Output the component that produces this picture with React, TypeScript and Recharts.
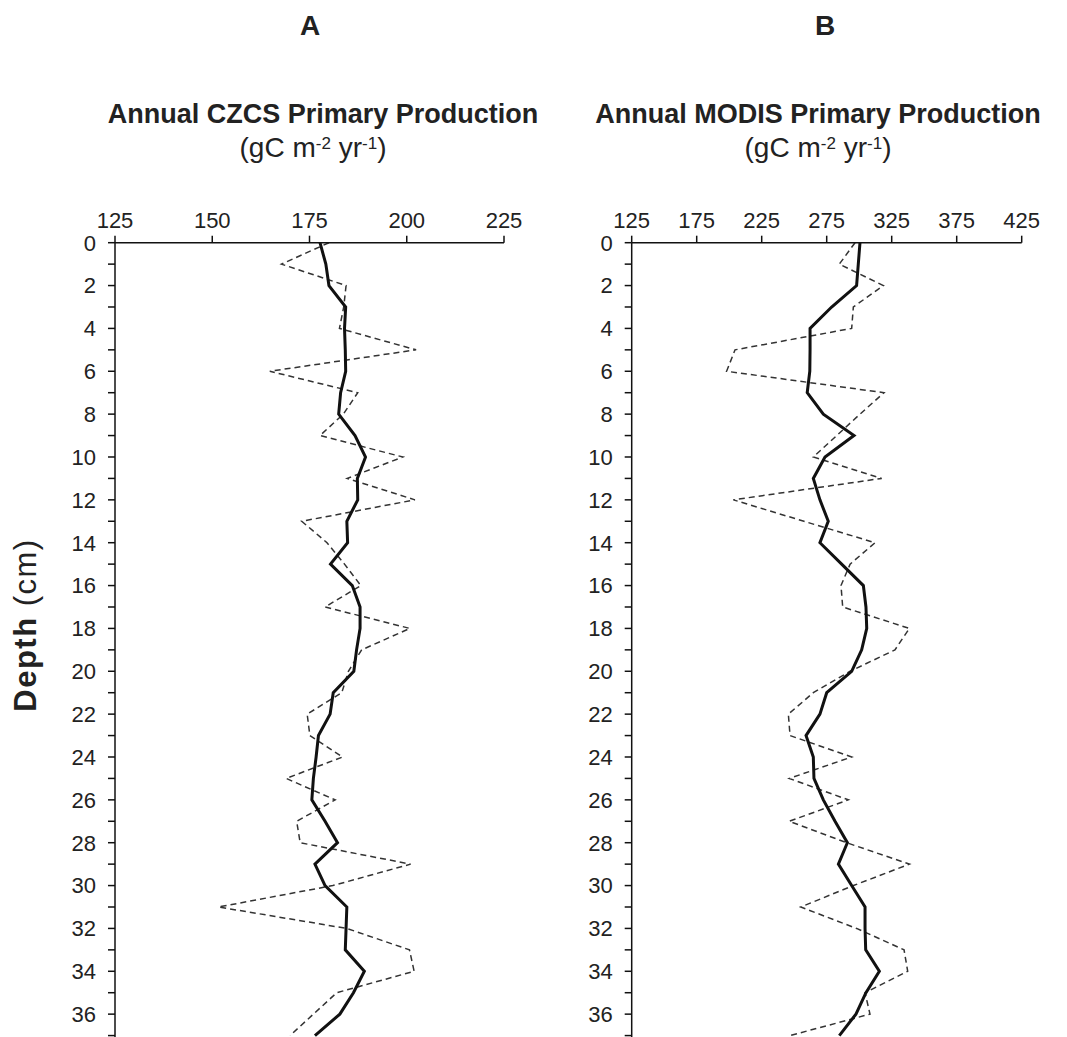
import { LineChart, Line, XAxis, YAxis } from "recharts";

const depths = [
  0, 1, 2, 3, 4, 5, 6, 7, 8, 9, 10, 11, 12, 13, 14, 15, 16, 17, 18, 19,
  20, 21, 22, 23, 24, 25, 26, 27, 28, 29, 30, 31, 32, 33, 34, 35, 36, 37,
];

// panel A, CZCS (solid = smoothed, dashed = annual)
const czcsSmooth = [
  177.7, 179.2, 180, 184.3, 184, 184.2, 184.3, 183, 182.5, 186.7,
  189.4, 187.3, 187.4, 184.6, 184.8, 180.4, 186, 188, 188, 187.1,
  186.4, 181.1, 180.3, 177.3, 176.7, 176, 175.6, 179, 182.2, 176.4,
  179, 184.6, 184.4, 184.2, 189.1, 186.3, 182.8, 176.4,
];
const czcsRaw = [
  180, 167.8, 184.4, 183.8, 182.7, 202.4, 164.8, 187.4, 183.7, 177.7,
  199, 184.7, 202.1, 173, 179.5, 184, 188.2, 179, 200.8, 188.4,
  185, 183.3, 174.4, 175.1, 183.5, 169, 181.6, 171.7, 172.6, 201,
  181, 151.6, 184.6, 200.7, 201.9, 182, 176, 170,
];

// panel B, MODIS
const modisSmooth = [
  300.6, 299.3, 298, 278.8, 262.2, 262.2, 262, 260, 272.4, 296,
  273.7, 264.7, 269.8, 276.2, 269.8, 286.5, 303.2, 305.2, 305.8, 301.9,
  294.2, 275, 269.8, 259.1, 264.7, 265.2, 272.4, 281.4, 290.9, 284,
  294.2, 304.5, 304.5, 305, 315.5, 305.2, 297.5, 284.7,
];
const modisRaw = [
  296.8, 284.7, 318.6, 295.5, 294.2, 204.5, 198, 319.1, 300.6, 282.7,
  264.7, 317.3, 203.2, 257.5, 312.2, 293, 286, 287.3, 338.6, 327.5,
  293, 264.7, 245.5, 246.8, 294.2, 246.2, 291.6, 246.2, 290.3, 338.6,
  295.5, 255, 298, 334.5, 337.3, 304.5, 308.3, 246.8,
];

const czcsTicks = [125, 150, 175, 200, 225];
const modisTicks = [125, 175, 225, 275, 325, 375, 425];

const FONT = '"Liberation Sans", Arial, sans-serif';

const czcsData = depths.map((d, i) => ({ depth: d, smooth: czcsSmooth[i], raw: czcsRaw[i] }));
const modisData = depths.map((d, i) => ({ depth: d, smooth: modisSmooth[i], raw: modisRaw[i] }));

function DepthTick(props: any) {
  const { x, y, payload } = props;
  if (payload.value % 2 !== 0) return <g />;
  return (
    <text x={x} y={y} dy="0.36em" textAnchor="end" fontSize={22} fill="#222" fontFamily={FONT}>
      {payload.value}
    </text>
  );
}

interface PanelProps {
  data: { depth: number; smooth: number; raw: number }[];
  ticks: number[];
  left: number;
  width: number;
  marginLeft: number;
  marginRight: number;
}

function Panel({ data, ticks, left, width, marginLeft, marginRight }: PanelProps) {
  return (
    <div style={{ position: "absolute", left, top: 0 }}>
      <LineChart
        width={width}
        height={1080}
        data={data}
        layout="vertical"
        margin={{ top: 212.7, left: marginLeft, right: marginRight, bottom: 23 }}
      >
        <XAxis
          type="number"
          orientation="top"
          domain={[ticks[0], ticks[ticks.length - 1]]}
          ticks={ticks}
          height={30}
          tickSize={7}
          tickMargin={8}
          stroke="#111"
          strokeWidth={1.5}
          tick={{ fontSize: 22, fill: "#222", fontFamily: FONT }}
        />
        <YAxis
          type="number"
          dataKey="depth"
          domain={[0, 38]}
          ticks={depths}
          interval={0}
          width={60}
          tickSize={7}
          tickMargin={12}
          stroke="#111"
          strokeWidth={1.5}
          tick={<DepthTick />}
        />
        <Line
          dataKey="raw"
          stroke="#333"
          strokeWidth={1.5}
          strokeDasharray="6 4"
          dot={false}
          isAnimationActive={false}
        />
        <Line
          dataKey="smooth"
          stroke="#111"
          strokeWidth={3}
          dot={false}
          isAnimationActive={false}
        />
      </LineChart>
    </div>
  );
}

function Subtitle({ x }: { x: number }) {
  return (
    <text x={x} y={157} textAnchor="middle" fontSize={28} fill="#222" fontFamily={FONT}>
      (gC m
      <tspan dy={-8} fontSize={17}>-2</tspan>
      <tspan dy={8}> yr</tspan>
      <tspan dy={-8} fontSize={17}>-1</tspan>
      <tspan dy={8}>)</tspan>
    </text>
  );
}

export default function App() {
  return (
    <div
      style={{
        position: "fixed",
        left: 0,
        top: 0,
        width: 1067,
        height: 1037,
        overflow: "hidden",
        background: "#fff",
        fontFamily: FONT,
      }}
    >
      <Panel data={czcsData} ticks={czcsTicks} left={0} width={530} marginLeft={55} marginRight={26} />
      <Panel data={modisData} ticks={modisTicks} left={530} width={537} marginLeft={41.7} marginRight={45.3} />
      <svg width={1067} height={1037} style={{ position: "absolute", left: 0, top: 0, pointerEvents: "none" }}>
        <text x={310} y={35} textAnchor="middle" fontSize={28} fontWeight="bold" fill="#222" fontFamily={FONT}>A</text>
        <text x={825} y={35} textAnchor="middle" fontSize={28} fontWeight="bold" fill="#222" fontFamily={FONT}>B</text>
        <text x={323} y={123} textAnchor="middle" fontSize={27} fontWeight="bold" fill="#222" fontFamily={FONT}>
          Annual CZCS Primary Production
        </text>
        <Subtitle x={313} />
        <text x={818} y={123} textAnchor="middle" fontSize={27} fontWeight="bold" fill="#222" fontFamily={FONT}>
          Annual MODIS Primary Production
        </text>
        <Subtitle x={818} />
        <text
          transform="translate(36,625) rotate(-90)"
          textAnchor="middle"
          fontSize={31}
          fill="#222"
          fontFamily={FONT}
          letterSpacing={1.5}
        >
          <tspan fontWeight="bold">Depth</tspan>
          <tspan> (cm)</tspan>
        </text>
      </svg>
    </div>
  );
}
